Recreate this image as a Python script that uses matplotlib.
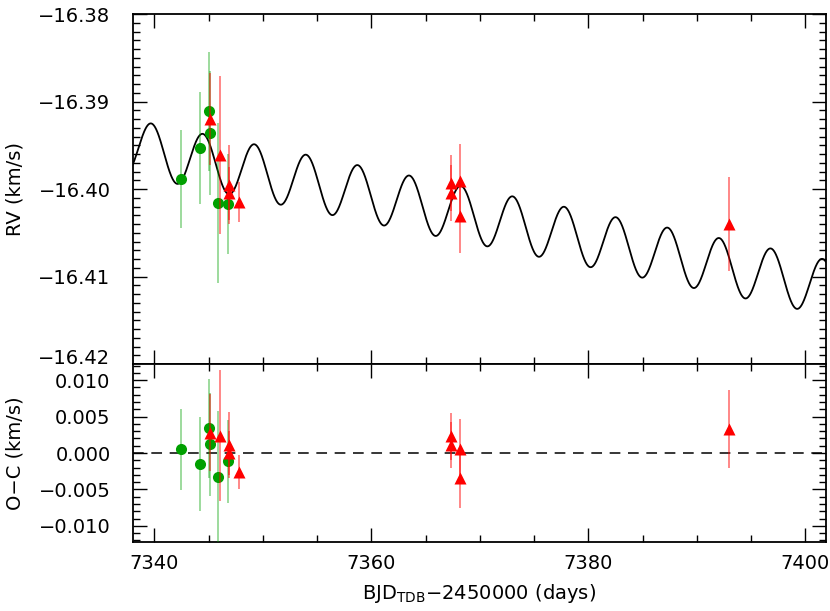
import numpy as np
import matplotlib.pyplot as plt
from matplotlib.ticker import MultipleLocator, FuncFormatter

# green circles
t_green = [7342.4, 7344.2, 7345.06, 7345.15, 7345.9, 7346.8]
rv_green = [-16.3989, -16.3953, -16.3911, -16.3936, -16.4016, -16.4017]
err_green = [0.0056, 0.0064, 0.0068, 0.0071, 0.0091, 0.0057]
oc_green = [0.0005, -0.0015, 0.0034, 0.0012, -0.0033, -0.0011]

# red triangles
t_red = [7345.1, 7346.0, 7346.9, 7346.9, 7347.8, 7367.35, 7367.35, 7368.15, 7368.15, 7393.0]
rv_red = [-16.3920, -16.3961, -16.3995, -16.4005, -16.4015,
          -16.3993, -16.4005, -16.3991, -16.4031, -16.4040]
err_red = [0.0053, 0.0090, 0.0045, 0.0030, 0.0023, 0.0032, 0.0032, 0.0042, 0.0042, 0.0054]
oc_red = [0.0028, 0.0024, 0.0011, 0.0000, -0.0026, 0.0023, 0.0011, 0.0005, -0.0034, 0.0033]

# model : systemic velocity + linear drift + circular orbit
P_orb = 4.761
K_amp = 0.00315
t_peak = 7339.70
gamma0 = -16.39565
drift = -0.000250

xmin, xmax = 7338.0, 7401.9

plt.rcParams['font.family'] = ['DejaVu Sans']
plt.rcParams['font.size'] = 14

fig = plt.figure(figsize=(8.3, 6.11), dpi=100)
ax1 = fig.add_axes([0.160, 0.404, 0.835, 0.573])
ax2 = fig.add_axes([0.160, 0.113, 0.835, 0.291])

tt = np.linspace(xmin, xmax, 2000)
model = gamma0 + drift * (tt - t_peak) + K_amp * np.cos(2 * np.pi * (tt - t_peak) / P_orb)
ax1.plot(tt, model, color='black', lw=1.3, zorder=2)

green = '#00a000'
ax1.errorbar(t_green, rv_green, yerr=err_green, fmt='none', ecolor=green, alpha=0.45, elinewidth=1.2, zorder=3)
ax1.plot(t_green, rv_green, 'o', color=green, ms=8, mec='none', zorder=4)
ax1.errorbar(t_red, rv_red, yerr=err_red, fmt='none', ecolor='red', alpha=0.55, elinewidth=1.2, zorder=5)
ax1.plot(t_red, rv_red, '^', color='red', ms=8, mec='none', zorder=6)

ax2.axhline(0.0, color='black', lw=1.1, ls=(0, (7, 5)), zorder=2)
ax2.errorbar(t_green, oc_green, yerr=err_green, fmt='none', ecolor=green, alpha=0.45, elinewidth=1.2, zorder=3)
ax2.plot(t_green, oc_green, 'o', color=green, ms=8, mec='none', zorder=4)
ax2.errorbar(t_red, oc_red, yerr=err_red, fmt='none', ecolor='red', alpha=0.55, elinewidth=1.2, zorder=5)
ax2.plot(t_red, oc_red, '^', color='red', ms=8, mec='none', zorder=6)

ax1.set_xlim(xmin, xmax)
ax2.set_xlim(xmin, xmax)
ax1.set_ylim(-16.42, -16.38)
ax2.set_ylim(-0.0122, 0.0122)

def fmt(dec):
    return FuncFormatter(lambda v, p: ('%.' + str(dec) + 'f') % v if v >= 0 else '\u2212' + ('%.' + str(dec) + 'f') % abs(v))

for ax in (ax1, ax2):
    ax.xaxis.set_major_locator(MultipleLocator(20))
    ax.xaxis.set_minor_locator(MultipleLocator(5))
    ax.tick_params(which='both', direction='in', top=True, right=True, width=1.0)
    ax.tick_params(axis='y', pad=16)
    ax.tick_params(axis='x', pad=9)
    ax.tick_params(which='major', length=10)
    ax.tick_params(which='minor', length=5)
    for s in ax.spines.values():
        s.set_linewidth(1.3)

ax1.yaxis.set_major_locator(MultipleLocator(0.01))
ax1.yaxis.set_minor_locator(MultipleLocator(0.001))
ax1.yaxis.set_major_formatter(fmt(2))
ax1.tick_params(axis='x', labelbottom=False)
ax2.yaxis.set_major_locator(MultipleLocator(0.005))
ax2.yaxis.set_minor_locator(MultipleLocator(0.001))
ax2.yaxis.set_major_formatter(fmt(3))

ax1.set_ylabel('RV (km/s)', labelpad=10)
ax2.set_ylabel('O\u2212C (km/s)', labelpad=10)
ax2.set_xlabel('BJD$_{\\rm TDB}$\u22122450000 (days)', labelpad=6)
fig.align_ylabels([ax1, ax2])

fig.canvas.draw()
for lab in ax1.get_yticklabels():
    if lab.get_text().endswith('16.42'):
        lab.set_verticalalignment('baseline')

fig.savefig('out.png', dpi=100)
